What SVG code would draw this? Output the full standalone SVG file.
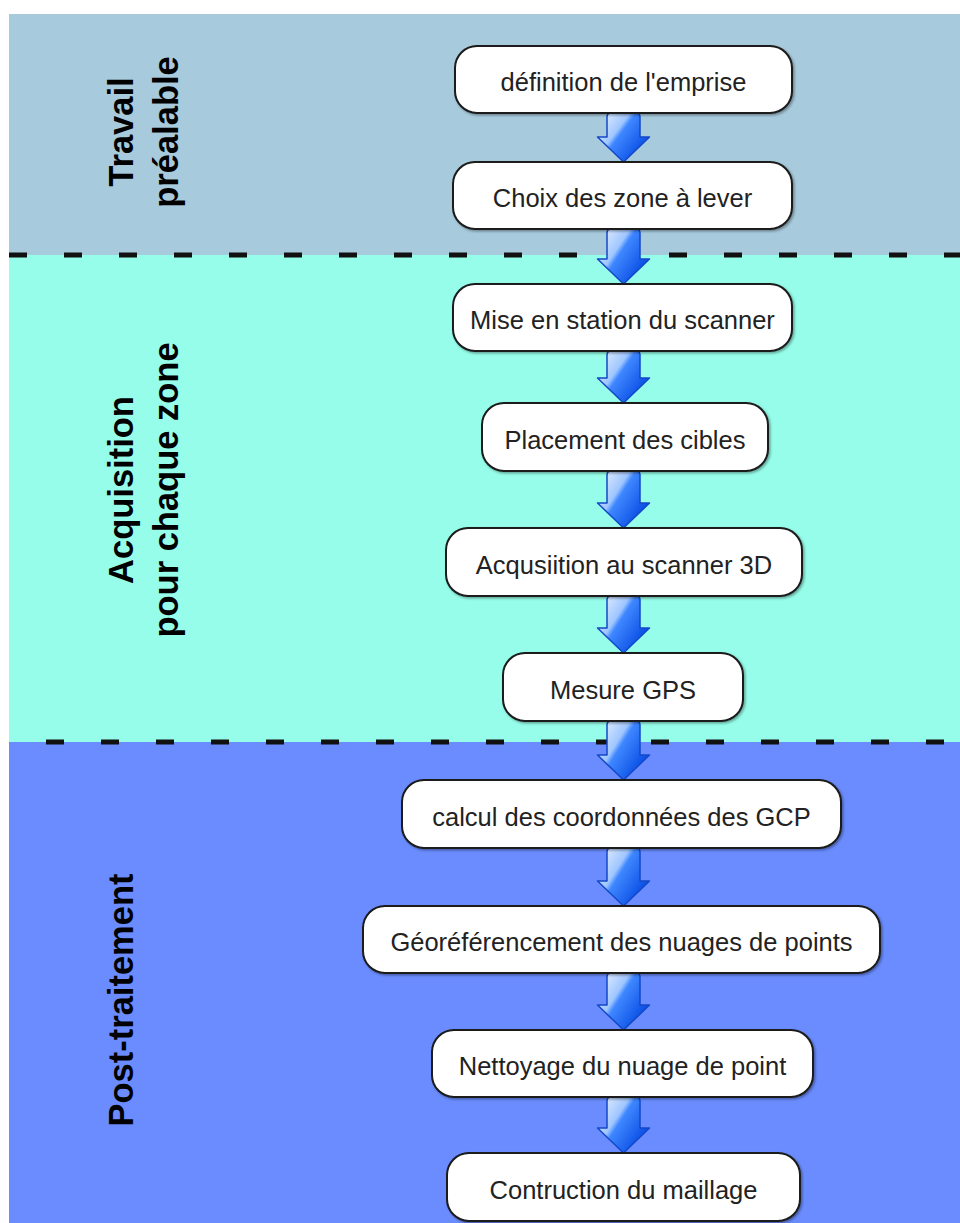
<svg xmlns="http://www.w3.org/2000/svg" width="960" height="1223" viewBox="0 0 960 1223">
<defs>
<linearGradient id="ag" x1="0" y1="0" x2="1" y2="0.7">
<stop offset="0" stop-color="#f2f7ff"/>
<stop offset="0.42" stop-color="#9fc6ff"/>
<stop offset="0.5" stop-color="#3f87ff"/>
<stop offset="1" stop-color="#0045e0"/>
</linearGradient>
<filter id="sh" x="-5%" y="-10%" width="110%" height="130%">
<feDropShadow dx="1.5" dy="1.5" stdDeviation="1" flood-color="#000" flood-opacity="0.35"/>
</filter>
<style>
.box{fill:#ffffff;stroke:#1a1a1a;stroke-width:2;filter:url(#sh)}
.t{font-family:"Liberation Sans",Arial,sans-serif;font-size:25.5px;fill:#222;text-anchor:middle}
.lab{font-family:"Liberation Sans",Arial,sans-serif;font-size:34.5px;font-weight:bold;fill:#000;text-anchor:middle}
.arr{fill:url(#ag);stroke:#1448c8;stroke-width:1.5;stroke-linejoin:round}
.dash{stroke:#111;stroke-width:5;stroke-dasharray:18 37;fill:none}
</style>
</defs>
<g id="bands">
<rect x="9" y="14" width="951" height="241" fill="#a7cadc"/>
<rect x="9" y="255" width="951" height="487" fill="#95fde9"/>
<rect x="9" y="742" width="951" height="481" fill="#6a8cfe"/>
<line class="dash" x1="9" y1="255" x2="960" y2="255"/>
<line class="dash" x1="46" y1="742" x2="960" y2="742"/>
</g>
<g id="labels">
<g transform="translate(133,132) rotate(-90)"><text class="lab" x="0" y="0">Travail</text><text class="lab" x="0" y="45">préalable</text></g>
<g transform="translate(133,490) rotate(-90)"><text class="lab" x="0" y="0">Acquisition</text><text class="lab" x="0" y="45">pour chaque zone</text></g>
<g transform="translate(133,1000) rotate(-90)"><text class="lab" x="0" y="0">Post-traitement</text></g>
</g>
<g id="connectors">
<path class="arr" d="M607,117 Q607,113 611,113 L636,113 Q640,113 640,117 L640,137 L649.5,137 L623.5,162 L597.5,137 L607,137 Z"/>
<path class="arr" d="M607,233 Q607,229 611,229 L636,229 Q640,229 640,233 L640,259 L649.5,259 L623.5,284 L597.5,259 L607,259 Z"/>
<path class="arr" d="M607,355 Q607,351 611,351 L636,351 Q640,351 640,355 L640,378 L649.5,378 L623.5,403 L597.5,378 L607,378 Z"/>
<path class="arr" d="M607,475 Q607,471 611,471 L636,471 Q640,471 640,475 L640,503 L649.5,503 L623.5,528 L597.5,503 L607,503 Z"/>
<path class="arr" d="M607,600 Q607,596 611,596 L636,596 Q640,596 640,600 L640,628 L649.5,628 L623.5,653 L597.5,628 L607,628 Z"/>
<path class="arr" d="M607,725 Q607,721 611,721 L636,721 Q640,721 640,725 L640,755 L649.5,755 L623.5,780 L597.5,755 L607,755 Z"/>
<path class="arr" d="M607,852 Q607,848 611,848 L636,848 Q640,848 640,852 L640,881 L649.5,881 L623.5,906 L597.5,881 L607,881 Z"/>
<path class="arr" d="M607,977 Q607,973 611,973 L636,973 Q640,973 640,977 L640,1005 L649.5,1005 L623.5,1030 L597.5,1005 L607,1005 Z"/>
<path class="arr" d="M607,1101 Q607,1097 611,1097 L636,1097 Q640,1097 640,1101 L640,1128 L649.5,1128 L623.5,1153 L597.5,1128 L607,1128 Z"/>
</g>
<g id="n1"><rect class="box" x="455" y="46" width="337" height="67" rx="22"/><text class="t" x="623.5" y="91">définition de l'emprise</text></g>
<g id="n2"><rect class="box" x="453" y="162" width="339" height="67" rx="22"/><text class="t" x="622.5" y="207">Choix des zone à lever</text></g>
<g id="n3"><rect class="box" x="453" y="284" width="339" height="67" rx="22"/><text class="t" x="622.5" y="329">Mise en station du scanner</text></g>
<g id="n4"><rect class="box" x="482" y="403" width="286" height="68" rx="22"/><text class="t" x="625" y="448.5">Placement des cibles</text></g>
<g id="n5"><rect class="box" x="446" y="528" width="356" height="68" rx="22"/><text class="t" x="624" y="573.5">Acqusiition au scanner 3D</text></g>
<g id="n6"><rect class="box" x="503" y="653" width="240" height="68" rx="22"/><text class="t" x="623" y="698.5">Mesure GPS</text></g>
<g id="n7"><rect class="box" x="402" y="780" width="439" height="68" rx="22"/><text class="t" x="621.5" y="825.5">calcul des coordonnées des GCP</text></g>
<g id="n8"><rect class="box" x="363" y="906" width="517" height="67" rx="22"/><text class="t" x="621.5" y="951">Géoréférencement des nuages de points</text></g>
<g id="n9"><rect class="box" x="432" y="1030" width="381" height="67" rx="22"/><text class="t" x="622.5" y="1075">Nettoyage du nuage de point</text></g>
<g id="n10"><rect class="box" x="447" y="1153" width="353" height="68" rx="22"/><text class="t" x="623.5" y="1198.5">Contruction du maillage</text></g>
</svg>
